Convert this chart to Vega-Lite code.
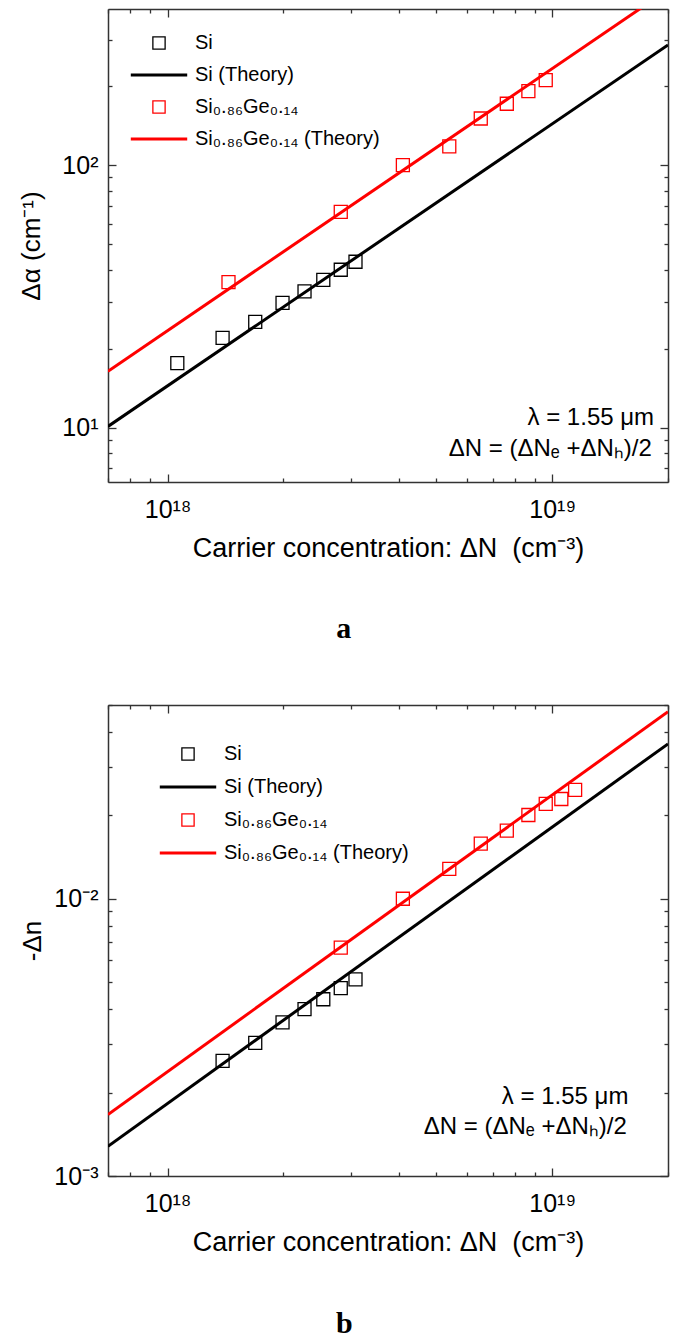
{
  "$schema": "https://vega.github.io/schema/vega-lite/v6.json",
  "background": "white",
  "padding": {"left": 18, "top": 8, "right": 2, "bottom": 2},
  "config": {
    "font": "Liberation Sans",
    "view": {"stroke": null},
    "axis": {"domainColor": "#333333", "domainWidth": 1.5, "tickColor": "#333333", "tickWidth": 1.3, "labelFont": "Liberation Sans", "labelFontSize": 25, "labelColor": "#000000", "titleFont": "Liberation Sans", "titleFontSize": 26, "titleFontWeight": "normal", "titleColor": "#000000", "grid": false, "labelOverlap": false, "labelBound": false, "labelFlush": false, "tickCount": 20}
  },
  "datasets": {
    "ptsA": [
      {"N": 1.06e18, "v": 17.6, "series": "Si"},
      {"N": 1.39e18, "v": 22.0, "series": "Si"},
      {"N": 1.69e18, "v": 25.3, "series": "Si"},
      {"N": 1.99e18, "v": 29.9, "series": "Si"},
      {"N": 2.27e18, "v": 33.1, "series": "Si"},
      {"N": 2.54e18, "v": 36.6, "series": "Si"},
      {"N": 2.82e18, "v": 40.0, "series": "Si"},
      {"N": 3.08e18, "v": 42.9, "series": "Si"},
      {"N": 1.44e18, "v": 35.9, "series": "Si₀.₈₆Ge₀.₁₄"},
      {"N": 2.82e18, "v": 66.5, "series": "Si₀.₈₆Ge₀.₁₄"},
      {"N": 4.09e18, "v": 100.3, "series": "Si₀.₈₆Ge₀.₁₄"},
      {"N": 5.40e18, "v": 118.2, "series": "Si₀.₈₆Ge₀.₁₄"},
      {"N": 6.52e18, "v": 151, "series": "Si₀.₈₆Ge₀.₁₄"},
      {"N": 7.62e18, "v": 171.9, "series": "Si₀.₈₆Ge₀.₁₄"},
      {"N": 8.67e18, "v": 192.1, "series": "Si₀.₈₆Ge₀.₁₄"},
      {"N": 9.62e18, "v": 211.6, "series": "Si₀.₈₆Ge₀.₁₄"}
    ],
    "thA_si": [{"N": 7e17, "v": 10.1}, {"N": 2e19, "v": 288}],
    "thA_sige": [{"N": 7e17, "v": 16.4}, {"N": 2e19, "v": 468}],
    "ptsB": [
      {"N": 1.39e18, "v": 0.0026, "series": "Si"},
      {"N": 1.69e18, "v": 0.00302, "series": "Si"},
      {"N": 1.99e18, "v": 0.00358, "series": "Si"},
      {"N": 2.27e18, "v": 0.0040, "series": "Si"},
      {"N": 2.54e18, "v": 0.00434, "series": "Si"},
      {"N": 2.82e18, "v": 0.00476, "series": "Si"},
      {"N": 3.08e18, "v": 0.00512, "series": "Si"},
      {"N": 2.82e18, "v": 0.00666, "series": "Si₀.₈₆Ge₀.₁₄"},
      {"N": 4.09e18, "v": 0.0100, "series": "Si₀.₈₆Ge₀.₁₄"},
      {"N": 5.40e18, "v": 0.01282, "series": "Si₀.₈₆Ge₀.₁₄"},
      {"N": 6.52e18, "v": 0.01581, "series": "Si₀.₈₆Ge₀.₁₄"},
      {"N": 7.62e18, "v": 0.01761, "series": "Si₀.₈₆Ge₀.₁₄"},
      {"N": 8.67e18, "v": 0.02005, "series": "Si₀.₈₆Ge₀.₁₄"},
      {"N": 9.62e18, "v": 0.02201, "series": "Si₀.₈₆Ge₀.₁₄"},
      {"N": 1.056e19, "v": 0.0229, "series": "Si₀.₈₆Ge₀.₁₄"},
      {"N": 1.147e19, "v": 0.0247, "series": "Si₀.₈₆Ge₀.₁₄"}
    ],
    "thB_si": [{"N": 7e17, "v": 0.00128}, {"N": 2e19, "v": 0.0362}],
    "thB_sige": [{"N": 7e17, "v": 0.001667}, {"N": 2e19, "v": 0.0473}]
  },
  "spacing": 49,
  "resolve": {"scale": {"x": "independent", "y": "independent", "color": "independent", "shape": "independent"}, "legend": {"color": "independent", "shape": "independent"}},
  "vconcat": [
    {
      "width": 560,
      "height": 473,
      "title": {"text": "a", "orient": "bottom", "font": "Liberation Serif", "fontSize": 30, "fontWeight": "bold", "anchor": "middle", "frame": "bounds", "offset": 53, "color": "#000000"},
      "resolve": {"axis": {"x": "independent", "y": "independent"}},
      "layer": [
        {
          "data": {"name": "thA_si"},
          "mark": {"type": "line", "color": "#000000", "strokeWidth": 3, "clip": true},
          "encoding": {
            "x": {"field": "N", "type": "quantitative", "scale": {"type": "log", "domain": [7e17, 2e19], "nice": false}, "axis": {"orient": "top", "labels": false, "title": null, "tickSize": {"condition": {"test": "abs(log(datum.value)/LN10 - round(log(datum.value)/LN10)) < 0.001", "value": -8}, "value": -4}}},
            "y": {"field": "v", "type": "quantitative", "scale": {"type": "log", "domain": [6.2, 395], "nice": false}, "axis": {"orient": "right", "labels": false, "title": null, "tickSize": {"condition": {"test": "abs(log(datum.value)/LN10 - round(log(datum.value)/LN10)) < 0.001", "value": -8}, "value": -4}}}
          }
        },
        {
          "data": {"name": "thA_sige"},
          "mark": {"type": "line", "color": "#ff0000", "strokeWidth": 3, "clip": true},
          "encoding": {
            "x": {"field": "N", "type": "quantitative", "scale": {"type": "log", "domain": [7e17, 2e19], "nice": false}, "axis": null},
            "y": {"field": "v", "type": "quantitative", "scale": {"type": "log", "domain": [6.2, 395], "nice": false}, "axis": null}
          }
        },
        {
          "data": {"name": "ptsA"},
          "mark": {"type": "point", "filled": false, "size": 169, "strokeWidth": 1.3, "opacity": 1},
          "encoding": {
            "x": {"field": "N", "type": "quantitative", "scale": {"type": "log", "domain": [7e17, 2e19], "nice": false}, "axis": {"orient": "bottom", "title": "Carrier concentration: ΔN \u00a0(cm⁻³)", "titleFontSize": 27, "labelExpr": "abs(datum.value/1e18 - 1) < 1e-6 ? '10¹⁸' : abs(datum.value/1e19 - 1) < 1e-6 ? '10¹⁹' : ''", "tickSize": {"condition": {"test": "abs(log(datum.value)/LN10 - round(log(datum.value)/LN10)) < 0.001", "value": -8}, "value": -4}, "labelPadding": 23, "titlePadding": 9}},
            "y": {"field": "v", "type": "quantitative", "scale": {"type": "log", "domain": [6.2, 395], "nice": false}, "axis": {"orient": "left", "title": "Δα (cm⁻¹)", "labelExpr": "abs(datum.value/10 - 1) < 1e-6 ? '10¹' : abs(datum.value/100 - 1) < 1e-6 ? '10²' : ''", "tickSize": {"condition": {"test": "abs(log(datum.value)/LN10 - round(log(datum.value)/LN10)) < 0.001", "value": -8}, "value": -4}, "labelPadding": 18, "titlePadding": 17}},
            "color": {"field": "series", "type": "nominal", "scale": {"domain": ["Si", "Si (Theory)", "Si₀.₈₆Ge₀.₁₄", "Si₀.₈₆Ge₀.₁₄ (Theory)"], "range": ["#000000", "#000000", "#ff0000", "#ff0000"]}, "legend": {"orient": "none", "legendX": 41, "legendY": 24, "title": null, "labelFont": "Liberation Sans", "labelFontSize": 20, "labelColor": "#000000", "labelLimit": 0, "labelOffset": 26, "rowPadding": 12, "symbolSize": 150, "symbolStrokeWidth": 1.3, "padding": 0, "encode": {"symbols": {"update": {"fill": {"value": "transparent"}}}}}},
            "shape": {"field": "series", "type": "nominal", "scale": {"domain": ["Si", "Si (Theory)", "Si₀.₈₆Ge₀.₁₄", "Si₀.₈₆Ge₀.₁₄ (Theory)"], "range": ["square", "M-4.5,-0.12H4.5V0.12H-4.5Z", "square", "M-4.5,-0.12H4.5V0.12H-4.5Z"]}, "legend": {"orient": "none", "legendX": 41, "legendY": 24, "title": null, "labelFont": "Liberation Sans", "labelFontSize": 20, "labelColor": "#000000", "labelLimit": 0, "labelOffset": 26, "rowPadding": 12, "symbolSize": 150, "symbolStrokeWidth": 1.3, "padding": 0, "encode": {"symbols": {"update": {"fill": {"value": "transparent"}}}}}}
          }
        },
        {
          "data": {"values": [{"t": "λ = 1.55 μm"}]},
          "mark": {"type": "text", "align": "right", "baseline": "middle", "fontSize": 24, "font": "Liberation Sans", "color": "#000000"},
          "encoding": {
            "x": {"datum": 1.84e19, "type": "quantitative", "scale": {"type": "log", "domain": [7e17, 2e19], "nice": false}, "axis": null},
            "y": {"datum": 10.85, "type": "quantitative", "scale": {"type": "log", "domain": [6.2, 395], "nice": false}, "axis": null},
            "text": {"field": "t"}
          }
        },
        {
          "data": {"values": [{"t": "ΔN = (ΔNₑ +ΔNₕ)/2"}]},
          "mark": {"type": "text", "align": "right", "baseline": "middle", "fontSize": 24, "font": "Liberation Sans", "color": "#000000"},
          "encoding": {
            "x": {"datum": 1.815e19, "type": "quantitative", "scale": {"type": "log", "domain": [7e17, 2e19], "nice": false}, "axis": null},
            "y": {"datum": 8.26, "type": "quantitative", "scale": {"type": "log", "domain": [6.2, 395], "nice": false}, "axis": null},
            "text": {"field": "t"}
          }
        }
      ]
    },
    {
      "width": 560,
      "height": 471,
      "title": {"text": "b", "orient": "bottom", "font": "Liberation Serif", "fontSize": 30, "fontWeight": "bold", "anchor": "middle", "frame": "bounds", "offset": 54, "color": "#000000"},
      "resolve": {"axis": {"x": "independent", "y": "independent"}},
      "layer": [
        {
          "data": {"name": "thB_si"},
          "mark": {"type": "line", "color": "#000000", "strokeWidth": 3, "clip": true},
          "encoding": {
            "x": {"field": "N", "type": "quantitative", "scale": {"type": "log", "domain": [7e17, 2e19], "nice": false}, "axis": {"orient": "top", "labels": false, "title": null, "tickSize": {"condition": {"test": "abs(log(datum.value)/LN10 - round(log(datum.value)/LN10)) < 0.001", "value": -8}, "value": -4}}},
            "y": {"field": "v", "type": "quantitative", "scale": {"type": "log", "domain": [0.001, 0.05], "nice": false}, "axis": {"orient": "right", "labels": false, "title": null, "tickSize": {"condition": {"test": "abs(log(datum.value)/LN10 - round(log(datum.value)/LN10)) < 0.001", "value": -8}, "value": -4}}}
          }
        },
        {
          "data": {"name": "thB_sige"},
          "mark": {"type": "line", "color": "#ff0000", "strokeWidth": 3, "clip": true},
          "encoding": {
            "x": {"field": "N", "type": "quantitative", "scale": {"type": "log", "domain": [7e17, 2e19], "nice": false}, "axis": null},
            "y": {"field": "v", "type": "quantitative", "scale": {"type": "log", "domain": [0.001, 0.05], "nice": false}, "axis": null}
          }
        },
        {
          "data": {"name": "ptsB"},
          "mark": {"type": "point", "filled": false, "size": 169, "strokeWidth": 1.3, "opacity": 1},
          "encoding": {
            "x": {"field": "N", "type": "quantitative", "scale": {"type": "log", "domain": [7e17, 2e19], "nice": false}, "axis": {"orient": "bottom", "title": "Carrier concentration: ΔN \u00a0(cm⁻³)", "titleFontSize": 27, "labelExpr": "abs(datum.value/1e18 - 1) < 1e-6 ? '10¹⁸' : abs(datum.value/1e19 - 1) < 1e-6 ? '10¹⁹' : ''", "tickSize": {"condition": {"test": "abs(log(datum.value)/LN10 - round(log(datum.value)/LN10)) < 0.001", "value": -8}, "value": -4}, "labelPadding": 23, "titlePadding": 9}},
            "y": {"field": "v", "type": "quantitative", "scale": {"type": "log", "domain": [0.001, 0.05], "nice": false}, "axis": {"orient": "left", "title": "-Δn", "labelExpr": "abs(datum.value/0.001 - 1) < 1e-6 ? '10⁻³' : abs(datum.value/0.01 - 1) < 1e-6 ? '10⁻²' : ''", "tickSize": {"condition": {"test": "abs(log(datum.value)/LN10 - round(log(datum.value)/LN10)) < 0.001", "value": -8}, "value": -4}, "labelPadding": 18, "titlePadding": 8}},
            "color": {"field": "series", "type": "nominal", "scale": {"domain": ["Si", "Si (Theory)", "Si₀.₈₆Ge₀.₁₄", "Si₀.₈₆Ge₀.₁₄ (Theory)"], "range": ["#000000", "#000000", "#ff0000", "#ff0000"]}, "legend": {"orient": "none", "legendX": 70, "legendY": 39, "title": null, "labelFont": "Liberation Sans", "labelFontSize": 20, "labelColor": "#000000", "labelLimit": 0, "labelOffset": 26, "rowPadding": 13, "symbolSize": 150, "symbolStrokeWidth": 1.3, "padding": 0, "encode": {"symbols": {"update": {"fill": {"value": "transparent"}}}}}},
            "shape": {"field": "series", "type": "nominal", "scale": {"domain": ["Si", "Si (Theory)", "Si₀.₈₆Ge₀.₁₄", "Si₀.₈₆Ge₀.₁₄ (Theory)"], "range": ["square", "M-4.5,-0.12H4.5V0.12H-4.5Z", "square", "M-4.5,-0.12H4.5V0.12H-4.5Z"]}, "legend": {"orient": "none", "legendX": 70, "legendY": 39, "title": null, "labelFont": "Liberation Sans", "labelFontSize": 20, "labelColor": "#000000", "labelLimit": 0, "labelOffset": 26, "rowPadding": 13, "symbolSize": 150, "symbolStrokeWidth": 1.3, "padding": 0, "encode": {"symbols": {"update": {"fill": {"value": "transparent"}}}}}}
          }
        },
        {
          "data": {"values": [{"t": "λ = 1.55 μm"}]},
          "mark": {"type": "text", "align": "right", "baseline": "middle", "fontSize": 24, "font": "Liberation Sans", "color": "#000000"},
          "encoding": {
            "x": {"datum": 1.578e19, "type": "quantitative", "scale": {"type": "log", "domain": [7e17, 2e19], "nice": false}, "axis": null},
            "y": {"datum": 0.001927, "type": "quantitative", "scale": {"type": "log", "domain": [0.001, 0.05], "nice": false}, "axis": null},
            "text": {"field": "t"}
          }
        },
        {
          "data": {"values": [{"t": "ΔN = (ΔNₑ +ΔNₕ)/2"}]},
          "mark": {"type": "text", "align": "right", "baseline": "middle", "fontSize": 24, "font": "Liberation Sans", "color": "#000000"},
          "encoding": {
            "x": {"datum": 1.563e19, "type": "quantitative", "scale": {"type": "log", "domain": [7e17, 2e19], "nice": false}, "axis": null},
            "y": {"datum": 0.001504, "type": "quantitative", "scale": {"type": "log", "domain": [0.001, 0.05], "nice": false}, "axis": null},
            "text": {"field": "t"}
          }
        }
      ]
    }
  ]
}
